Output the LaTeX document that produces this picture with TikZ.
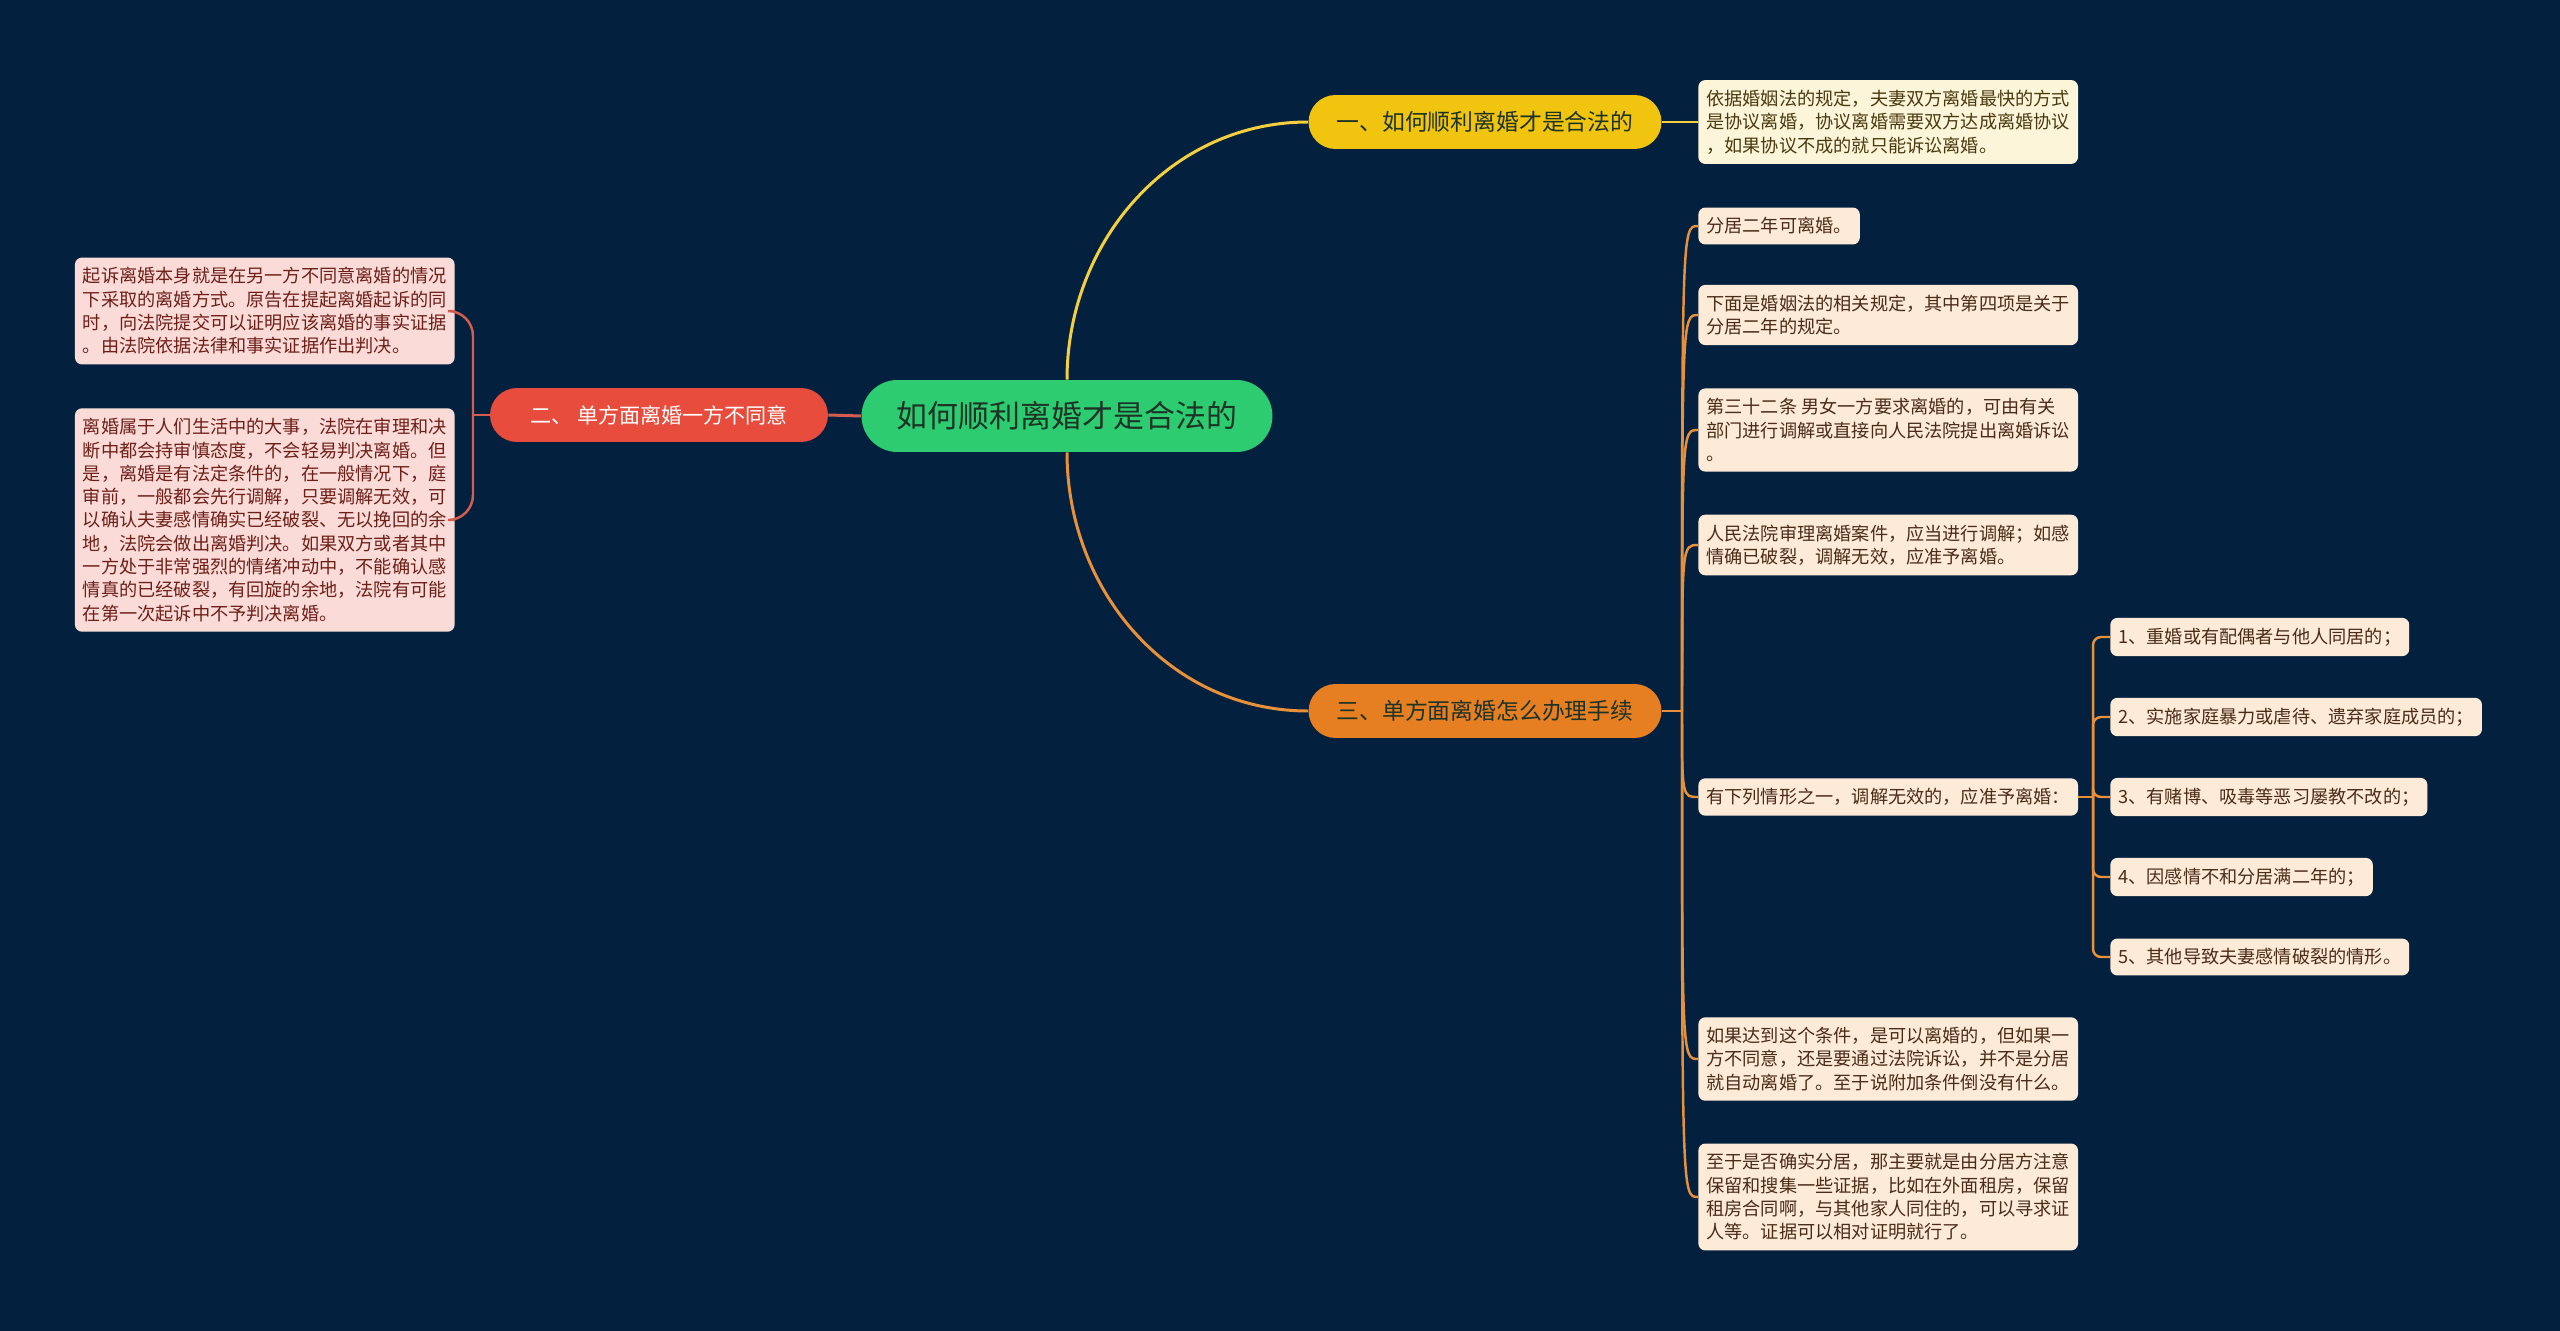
\documentclass[tikz,border=0pt]{standalone}
\usepackage{fontspec}
\setmainfont{Noto Sans CJK SC}

\definecolor{bgnavy}{HTML}{03213F}
\definecolor{topicgreen}{HTML}{2ECC71}
\definecolor{topicink}{HTML}{1C3326}
\definecolor{oneyellow}{HTML}{F1C40F}
\definecolor{twored}{HTML}{E74C3C}
\definecolor{threeorange}{HTML}{E67E22}
\definecolor{oneline}{HTML}{F4D03F}
\definecolor{twoline}{HTML}{D35D4E}
\definecolor{threeline}{HTML}{E8913A}
\definecolor{onepaper}{HTML}{FDF5D9}
\definecolor{twopaper}{HTML}{FADBD8}
\definecolor{threepaper}{HTML}{FDEBD8}
\definecolor{oneink}{HTML}{4A3A10}
\definecolor{twoink}{HTML}{6E1F18}
\definecolor{threeink}{HTML}{4A2C17}

\begin{document}
\begin{tikzpicture}[
  x=0.02cm, y=-0.02cm,
  topic/.style={rounded corners=0.72cm, fill=topicgreen, text=topicink, minimum width=8.22cm, minimum height=1.44cm, font=\fontsize{17.6}{20}\selectfont},
  branch/.style={rounded corners=0.54cm, minimum width=7.06cm, minimum height=1.08cm, font=\fontsize{13}{15}\selectfont},
  leaf/.style={rounded corners=0.14cm, align=left, inner xsep=0.16cm, inner ysep=0.2cm, font=\fontsize{10.35}{13.26}\selectfont},
  oneleaf/.style={leaf, anchor=west, fill=onepaper, text=oneink},
  twoleaf/.style={leaf, anchor=east, fill=twopaper, text=twoink},
  threeleaf/.style={leaf, anchor=west, fill=threepaper, text=threeink},
  yline/.style={oneline, line width=1.7pt},
  rline/.style={twoline, line width=1.7pt},
  oline/.style={threeline, line width=1.7pt},
  rthin/.style={twoline, line width=1.4pt},
  othin/.style={threeline, line width=1.4pt}
]
\fill[bgnavy] (0,0) rectangle (2560,1331);

% centre and main branches
\node[topic] (c) at (1067,416) {如何顺利离婚才是合法的};
\node[branch, fill=oneyellow, text=topicink] (b1) at (1485,122) {一、如何顺利离婚才是合法的};
\node[branch, fill=twored, text=white, minimum width=6.76cm, font=\fontsize{12}{14}\selectfont] (b2) at (659,415) {二、 单方面离婚一方不同意};
\node[branch, fill=threeorange, text=topicink] (b3) at (1485,711) {三、单方面离婚怎么办理手续};

% branch one
\node[oneleaf] (a1) at (1698,122) {依据婚姻法的规定，夫妻双方离婚最快的方式\\是协议离婚，协议离婚需要双方达成离婚协议\\，如果协议不成的就只能诉讼离婚。};

% branch two
\node[twoleaf] (r1) at (455,311) {起诉离婚本身就是在另一方不同意离婚的情况\\下采取的离婚方式。原告在提起离婚起诉的同\\时，向法院提交可以证明应该离婚的事实证据\\。由法院依据法律和事实证据作出判决。};
\node[twoleaf] (r2) at (455,520) {离婚属于人们生活中的大事，法院在审理和决\\断中都会持审慎态度，不会轻易判决离婚。但\\是，离婚是有法定条件的，在一般情况下，庭\\审前，一般都会先行调解，只要调解无效，可\\以确认夫妻感情确实已经破裂、无以挽回的余\\地，法院会做出离婚判决。如果双方或者其中\\一方处于非常强烈的情绪冲动中，不能确认感\\情真的已经破裂，有回旋的余地，法院有可能\\在第一次起诉中不予判决离婚。};

% branch three
\node[threeleaf] (t1) at (1698,226) {分居二年可离婚。};
\node[threeleaf] (t2) at (1698,315) {下面是婚姻法的相关规定，其中第四项是关于\\分居二年的规定。};
\node[threeleaf] (t3) at (1698,430) {第三十二条 男女一方要求离婚的，可由有关\\部门进行调解或直接向人民法院提出离婚诉讼\\。};
\node[threeleaf] (t4) at (1698,545) {人民法院审理离婚案件，应当进行调解；如感\\情确已破裂，调解无效，应准予离婚。};
\node[threeleaf] (t5) at (1698,797) {有下列情形之一，调解无效的，应准予离婚：};
\node[threeleaf] (t6) at (1698,1059) {如果达到这个条件，是可以离婚的，但如果一\\方不同意，还是要通过法院诉讼，并不是分居\\就自动离婚了。至于说附加条件倒没有什么。};
\node[threeleaf] (t7) at (1698,1197) {至于是否确实分居，那主要就是由分居方注意\\保留和搜集一些证据，比如在外面租房，保留\\租房合同啊，与其他家人同住的，可以寻求证\\人等。证据可以相对证明就行了。};

\node[threeleaf] (s1) at (2110,637) {1、重婚或有配偶者与他人同居的；};
\node[threeleaf] (s2) at (2110,717) {2、实施家庭暴力或虐待、遗弃家庭成员的；};
\node[threeleaf] (s3) at (2110,797) {3、有赌博、吸毒等恶习屡教不改的；};
\node[threeleaf] (s4) at (2110,877) {4、因感情不和分居满二年的；};
\node[threeleaf] (s5) at (2110,957) {5、其他导致夫妻感情破裂的情形。};

\coordinate (jr) at (473,415);
\coordinate (jo) at (1682,711);
\coordinate (js) at (2093,797);

% connectors
\draw[yline] (c.north) to[out=90, in=180] (b1.west);
\draw[oline] (c.south) to[out=-90, in=180] (b3.west);
\draw[rline] (c.west) -- (b2.east);
\draw[yline] (b1.east) -- (a1.west);

\draw[rthin] (b2.west) -- (jr);
\foreach \n in {r1,r2}
  \draw[rthin, rounded corners=0.5cm] (\n.east) -| (jr);

\draw[oline] (b3.east) -- (jo);
\foreach \n in {t1,t2,t3,t4,t5,t6,t7}
  \draw[othin] (jo) .. controls (jo |- \n.west) .. (\n.west);

\draw[othin] (t5.east) -- (js);
\foreach \n in {s1,s2,s3,s4,s5}
  \draw[othin, rounded corners=0.16cm] (\n.west) -| (js);
\end{tikzpicture}
\end{document}
